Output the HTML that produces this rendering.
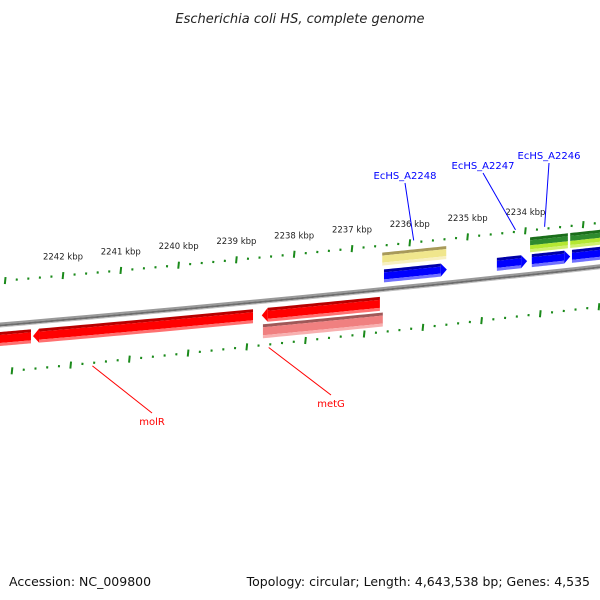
<!DOCTYPE html>
<html><head><meta charset="utf-8"><style>
html,body{margin:0;padding:0;background:#fff;}
svg{display:block;font-family:"DejaVu Sans","Liberation Sans",sans-serif;}
</style></head><body>
<svg id="map" width="600" height="600" viewBox="0 0 600 600" xmlns="http://www.w3.org/2000/svg">
<text x="300" y="23" text-anchor="middle" font-size="13" font-style="italic" fill="#222">Escherichia coli HS, complete genome</text>
<text x="9" y="586" font-size="12.5" fill="#111">Accession: NC_009800</text>
<text x="590" y="586" text-anchor="end" font-size="12.5" fill="#111">Topology: circular; Length: 4,643,538 bp; Genes: 4,535</text>
<g id="layer"></g>
</svg>
<script>
// ---- data ----
const tickKbp = [2243,2242,2241,2240,2239,2238,2237,2236,2235,2234,2233,2232];
const tickLabels = ["2242 kbp","2241 kbp","2240 kbp","2239 kbp","2238 kbp","2237 kbp","2236 kbp","2235 kbp","2234 kbp"];
const tickLabelKbp = [2242,2241,2240,2239,2238,2237,2236,2235,2234];
const geneNames = ["gene-rev-1","molR","metG","metG-hit","EcHS_A2248-hit","EcHS_A2248","EcHS_A2247","EcHS_A2246","gene-fwd-4","hit-green-1","hit-green-2"];
const geneStarts = [2243.48,2242.57,2238.64,2238.62,2236.57,2236.54,2234.60,2234.00,2233.31,2234.03,2233.34];
const geneEnds   = [2242.605,2238.79,2236.61,2236.56,2235.47,2235.46,2234.08,2233.34,2232.60,2233.38,2232.60];
const geneTracks = ["rev","rev","rev","pink","yellow","fwd","fwd","fwd","fwd","green","green"];
const labelText = ["molR","metG","EcHS_A2248","EcHS_A2247","EcHS_A2246"];
const labelKbp  = [2241.55,2238.52,2236.03,2234.28,2233.78];
const labelPos  = [[152,425],[331,407],[405,179],[483,169],[549,159]];
const labelSide = ["in","in","out","out","out"];

// ---- geometry ----
const NS="http://www.w3.org/2000/svg";
const layer=document.getElementById('layer');
function yb(x){return 325-0.085*x-0.00002*x*x;}
function xBB(k){return 8+(2243-k)*58.2;}
function xOut(k){return 5.2+(2243-k)*57.8;}
function xIn(k){return 12+(2243-k)*58.7;}
function offIn(x){return 47-0.012*x;}
function mk(tag,attrs){const e=document.createElementNS(NS,tag);for(const a in attrs)e.setAttribute(a,attrs[a]);return e;}
function band(x1,x2,o1,o2,fill,name){
  let d="";const n=20;
  for(let i=0;i<=n;i++){const x=x1+(x2-x1)*i/n;d+=(i?"L":"M")+x.toFixed(2)+","+(yb(x)+o1).toFixed(2);}
  for(let i=n;i>=0;i--){const x=x1+(x2-x1)*i/n;d+="L"+x.toFixed(2)+","+(yb(x)+o2).toFixed(2);}
  const p=mk('path',{d:d+"Z",fill:fill});
  
  
  layer.appendChild(p);return p;
}
// backbone
band(-5,605,-2.5,-0.5,"#9a9a9a","backbone-top");
band(-5,605,-0.5,1.5,"#6e6e6e","backbone");
band(-5,605,1.5,2.5,"#bdbdbd","backbone-bottom");

const styles={
  rev:{o1:7,o2:21,c:["#b80000","#ff0000","#ff7070"],head:"left"},
  pink:{o1:23,o2:37,c:["#a05858","#f08080","#f8b0b0"],head:null},
  fwd:{o1:-20,o2:-7,c:["#0000a8","#0000ff","#7070ff"],head:"right"},
  yellow:{o1:-37,o2:-24,c:["#a89a5a","#f0e68c","#f8f0c0"],head:null},
  green:{o1:-37,o2:-22,c:["#1a6e1a","#2e8b2e","#a8e030"],head:null}
};
geneStarts.forEach((s,i)=>{
  const st=styles[geneTracks[i]];
  let xa=xBB(s),xe=xBB(geneEnds[i]);
  const o1=st.o1,o2=st.o2,h=o2-o1;
  const name=geneNames[i];
  if(geneTracks[i]==="green"){
    band(xa,xe,o1,o1+3,st.c[0],name+"-edge");
    band(xa,xe,o1+3,o1+8,st.c[1],name);
    band(xa,xe,o1+8,o1+12,"#b4e832",name+"-lower");
    band(xa,xe,o1+12,o2,"#d0f070",name+"-lower-edge");
    return;
  }
  let bx1=xa,bx2=xe;
  if(st.head==="left")bx1=xa+6;
  if(st.head==="right")bx2=xe-6;
  band(bx1,bx2,o1,o1+3,st.c[0],name+"-edge");
  band(bx1,bx2,o1+3,o2-3,st.c[1],name);
  band(bx1,bx2,o2-3,o2,st.c[2],name+"-shade");
  if(st.head){
    const tip=st.head==="left"?xa:xe, base=st.head==="left"?bx1:bx2;
    const pts=[[base,yb(base)+o1],[tip,yb(tip)+(o1+o2)/2],[base,yb(base)+o2]];
    const t=mk('polygon',{points:pts.map(p=>p.map(v=>v.toFixed(2)).join(",")).join(" "),fill:st.c[1]});
    
    
    layer.appendChild(t);
  }
});

// ticks
function tickRing(xf,offf,ring){
  for(let k=tickKbp[0];k>=tickKbp[tickKbp.length-1];k=Math.round((k-0.2)*10)/10){
    const x=xf(k);if(x<-3||x>603)continue;
    const major=Math.abs(k-Math.round(k))<1e-6;
    const len=major?7:2.2;
    const c=yb(x)+offf(x);
    const l=mk('line',{x1:(x+len*0.05).toFixed(2),y1:(c-len/2).toFixed(2),x2:(x-len*0.05).toFixed(2),y2:(c+len/2).toFixed(2),stroke:"#1a8a1a","stroke-width":major?2:2});
    
    
    layer.appendChild(l);
  }
}
tickRing(xOut,()=>-44,'outer');
tickRing(xIn,offIn,'inner');
tickLabelKbp.forEach((k,i)=>{
  const x=xOut(k);
  const t=mk('text',{x:x.toFixed(1),y:(yb(x)-60).toFixed(1),"text-anchor":"middle","font-size":"8.5",fill:"#222"});
  t.textContent=tickLabels[i];
  
  
  layer.appendChild(t);
});

// feature labels
labelText.forEach((s,i)=>{
  const col=labelSide[i]==="in"?"#ff0000":"#0000ff";
  const x=xBB(labelKbp[i]);
  const [lx,ly]=labelPos[i];
  const y0=labelSide[i]==="in"?yb(x)+offIn(x)+3:yb(x)-46;
  const y1=labelSide[i]==="in"?ly-12:ly+4;
  const l=mk('line',{x1:x.toFixed(1),y1:y0.toFixed(1),x2:lx,y2:y1,stroke:col,"stroke-width":1});
  
  
  layer.appendChild(l);
  const t=mk('text',{x:lx,y:ly,"text-anchor":"middle","font-size":"10",fill:col});
  t.textContent=s;
  
  
  layer.appendChild(t);
});
</script>
</body></html>
